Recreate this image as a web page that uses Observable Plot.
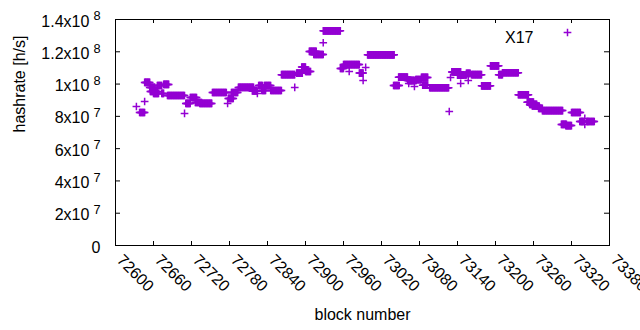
<!DOCTYPE html>
<html><head><meta charset="utf-8">
<script src="https://cdn.jsdelivr.net/npm/d3@7"></script>
<script src="https://cdn.jsdelivr.net/npm/@observablehq/plot@0.6"></script>
<style>body{margin:0;background:#fff;}</style>
</head><body><div id="chart"></div>
<script>
// Runs of blocks with a constant hashrate (start block, end block, hashrate in h/s)
const segStart = [72633,72638,72646,72646,72654,72655,72660,72666,72673,72676,72682,72709,72711,72718,72726,72733,72753,72777,72778,72783,72794,72816,72824,72826,72831,72835,72845,72862,72883,72886,72894,72900,72906,72913,72928,72928,72955,72960,72969,72985,72991,72995,72998,73039,73047,73061,73063,73064,73072,73074,73083,73085,73096,73127,73129,73131,73140,73145,73146,73154,73157,73162,73178,73192,73205,73211,73236,73250,73254,73258,73268,73274,73304,73311,73320,73333,73341,73341,73344];
const segEnd   = [72633,72646,72646,72654,72662,72666,72668,72673,72676,72684,72709,72709,72718,72728,72736,72752,72775,72777,72786,72793,72818,72824,72824,72832,72837,72845,72862,72883,72883,72895,72900,72908,72917,72928,72928,72955,72960,72985,72969,72991,72991,72995,73040,73048,73061,73071,73063,73075,73072,73083,73093,73093,73126,73127,73129,73145,73149,73145,73154,73160,73157,73178,73192,73205,73211,73236,73252,73260,73265,73269,73274,73306,73312,73320,73334,73339,73341,73341,73356];
const segRate  = [86.1e6,82.4e6,89.2e6,101e6,97.9e6,95.4e6,94.2e6,99.1e6,94.2e6,99.8e6,92.9e6,81.8e6,88.0e6,91.7e6,88.6e6,88.0e6,94.8e6,88.0e6,91.1e6,94.8e6,97.9e6,95.7e6,94.2e6,99.1e6,96.0e6,99.1e6,96.0e6,105.8e6,97.9e6,106.8e6,110.5e6,107.8e6,120.2e6,118.3e6,125.6e6,133.0e6,109.7e6,112.1e6,107.8e6,106.8e6,102.2e6,110.3e6,118.1e6,99.1e6,104.3e6,102.2e6,100.4e6,102.2e6,98.5e6,102.8e6,104.1e6,99.3e6,97.7e6,83.0e6,104.1e6,107.5e6,105.5e6,100.4e6,105.6e6,106.6e6,102.2e6,105.8e6,98.9e6,111.3e6,105.8e6,107.0e6,93.4e6,88.8e6,87.4e6,86.4e6,84.9e6,83.6e6,75.0e6,74.3e6,82.4e6,76.8e6,78.7e6,75.0e6,76.8e6];
const xTicks = [72600,72660,72720,72780,72840,72900,72960,73020,73080,73140,73200,73260,73320,73380];
const yTicks = [0,2e7,4e7,6e7,8e7,1e8,1.2e8,1.4e8];
const seriesName = "X17";
const xLabel = "block number";
const yLabel = "hashrate [h/s]";

const points = [];
segStart.forEach((s, i) => {
  for (let b = s; b <= segEnd[i]; b++) points.push({block: b, rate: segRate[i]});
});

function fmtY(v) {
  if (v === 0) return "0";
  const e = Math.floor(Math.log10(v) + 1e-9);
  const m = +(v / 10 ** e).toFixed(1);
  return `${m}x10^${e}`;
}

const W = 640, H = 330, mL = 115, mR = 31, mT = 19, mB = 85;
const innerH = H - mT - mB, innerW = W - mL - mR;
const purple = "#9400d3";

const chart = Plot.plot({
  width: W, height: H,
  marginLeft: mL, marginRight: mR, marginTop: mT, marginBottom: mB,
  style: {fontFamily: "'Liberation Sans', Arial, sans-serif", fontSize: "16px", background: "#fff", color: "#000"},
  x: {domain: [72600, 73380]},
  y: {domain: [0, 1.4e8]},
  marks: [
    Plot.tickX(xTicks, {x: d => d, insetTop: innerH - 4, stroke: "#000"}),
    Plot.tickX(xTicks, {x: d => d, insetBottom: innerH - 4, stroke: "#000"}),
    Plot.tickY(yTicks, {y: d => d, insetRight: innerW - 5, stroke: "#000"}),
    Plot.tickY(yTicks, {y: d => d, insetLeft: innerW - 5, stroke: "#000"}),
    Plot.axisX({ticks: xTicks, tickSize: 0, tickRotate: 45, tickPadding: 12, dx: 4, tickFormat: d => String(d), label: null}),
    Plot.axisY({ticks: yTicks, tickSize: 0, tickPadding: 15, tickFormat: fmtY, label: null, dy: 2}),
    Plot.text([yLabel], {frameAnchor: "left", rotate: -90, dx: -96}),
    Plot.text([xLabel], {frameAnchor: "bottom", dy: 74}),
    Plot.dot(points, {x: "block", y: "rate", symbol: "plus", r: 2.6, stroke: purple, strokeWidth: 1.5}),
    Plot.text([seriesName], {frameAnchor: "top-right", textAnchor: "end", dx: -76, dy: 12}),
    Plot.dot([seriesName], {frameAnchor: "top-right", dx: -42, dy: 13, symbol: "plus", r: 2.6, stroke: purple, strokeWidth: 1.5}),
    Plot.frame({stroke: "#000", strokeWidth: 1})
  ]
});

chart.querySelectorAll('g[aria-label="y-axis tick label"] text').forEach(t => {
  const s = t.textContent;
  if (s.includes("^")) {
    const [base, exp] = s.split("^");
    t.textContent = base;
    const ts = document.createElementNS("http://www.w3.org/2000/svg", "tspan");
    ts.setAttribute("dx", "4");
    ts.setAttribute("dy", "-0.5em");
    ts.setAttribute("font-size", "0.8em");
    ts.textContent = exp;
    t.appendChild(ts);
  }
});

document.getElementById("chart").appendChild(chart);
</script>
</body></html>
